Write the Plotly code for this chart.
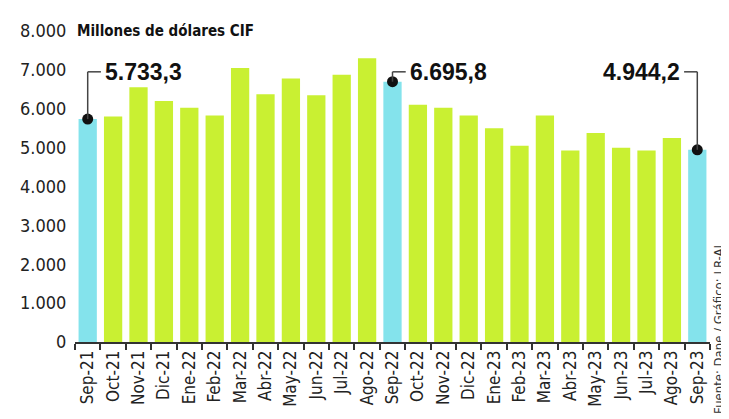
import plotly.graph_objects as go

categories = ["Sep-21", "Oct-21", "Nov-21", "Dic-21", "Ene-22", "Feb-22", "Mar-22", "Abr-22",
              "May-22", "Jun-22", "Jul-22", "Ago-22", "Sep-22", "Oct-22", "Nov-22", "Dic-22",
              "Ene-23", "Feb-23", "Mar-23", "Abr-23", "May-23", "Jun-23", "Jul-23", "Ago-23", "Sep-23"]
values = [5733.3, 5800, 6550, 6200, 6025, 5825, 7050, 6375,
          6775, 6350, 6875, 7300, 6695.8, 6100, 6025, 5825,
          5500, 5050, 5825, 4925, 5375, 5000, 4925, 5250, 4944.2]
highlight = ["Sep-21", "Sep-22", "Sep-23"]
highlight_labels = ["5.733,3", "6.695,8", "4.944,2"]
y_tick_values = [0, 1000, 2000, 3000, 4000, 5000, 6000, 7000, 8000]
y_tick_labels = ["0", "1.000", "2.000", "3.000", "4.000", "5.000", "6.000", "7.000", "8.000"]

GREEN = "#c9f032"
CYAN = "#84e3ec"
colors = [CYAN if c in highlight else GREEN for c in categories]
FONT = "DejaVu Sans Condensed, Liberation Sans Narrow, Liberation Sans"

fig = go.Figure()
fig.add_trace(go.Bar(x=categories, y=values, marker=dict(color=colors, line=dict(width=0)),
                     hoverinfo="x+y"))

hl_idx = [categories.index(c) for c in highlight]
hl_vals = [values[i] for i in hl_idx]
fig.add_trace(go.Scatter(x=[categories[i] for i in hl_idx], y=hl_vals, mode="markers",
                         marker=dict(color="#111111", size=11), hoverinfo="skip"))

LEAD_Y = 6950
line_style = dict(color="#444444", width=1.5)
for k, i in enumerate(hl_idx):
    direction = -1 if i == len(categories) - 1 else 1
    fig.add_shape(type="line", xref="x", yref="y", x0=i, x1=i, y0=hl_vals[k], y1=LEAD_Y, line=line_style)
    fig.add_shape(type="line", xref="x", yref="y", x0=i, x1=i + direction * 0.52, y0=LEAD_Y, y1=LEAD_Y,
                  line=line_style)
    fig.add_annotation(x=i + direction * 0.62, y=LEAD_Y, xref="x", yref="y",
                       text="<b>" + highlight_labels[k] + "</b>", showarrow=False,
                       xanchor="left" if direction > 0 else "right", yanchor="middle",
                       font=dict(family="Liberation Sans", size=23, color="#111111"))

fig.add_annotation(x=0.0, y=8000, xref="paper", yref="y", text="<b>Millones de dólares CIF</b>",
                   showarrow=False, xanchor="left", yanchor="middle",
                   font=dict(family=FONT, size=15, color="#111111"))

fig.add_annotation(x=1.014, y=0.328, xref="paper", yref="paper", text="Fuente: Dane / Gráfico: LR-AL",
                   showarrow=False, textangle=-90, xanchor="center", yanchor="top",
                   font=dict(family=FONT, size=13, color="#333333"))

# the page body has an 8px margin, so the figure is sized to fit the 729x419 window
fig.update_layout(
    width=721, height=411,
    margin=dict(l=63, r=19, t=15, b=76),
    paper_bgcolor="white", plot_bgcolor="white",
    showlegend=False, bargap=0.28,
    font=dict(family=FONT, size=17, color="#222222"),
)
fig.update_xaxes(type="category", range=[-0.5, len(categories) - 0.5], tickangle=-90,
                 showline=True, linecolor="#333333", linewidth=1.5,
                 ticks="outside", tickson="boundaries", ticklen=6, tickcolor="#333333", tickwidth=1.5,
                 showgrid=False, tickfont=dict(size=17, color="#222222"))
fig.update_yaxes(range=[0, 8000], tickvals=y_tick_values, ticktext=y_tick_labels,
                 showgrid=False, zeroline=False, showline=False,
                 ticks="outside", ticklen=4, tickcolor="rgba(0,0,0,0)",
                 tickfont=dict(size=18, color="#222222"))

fig.write_html("out.html")
